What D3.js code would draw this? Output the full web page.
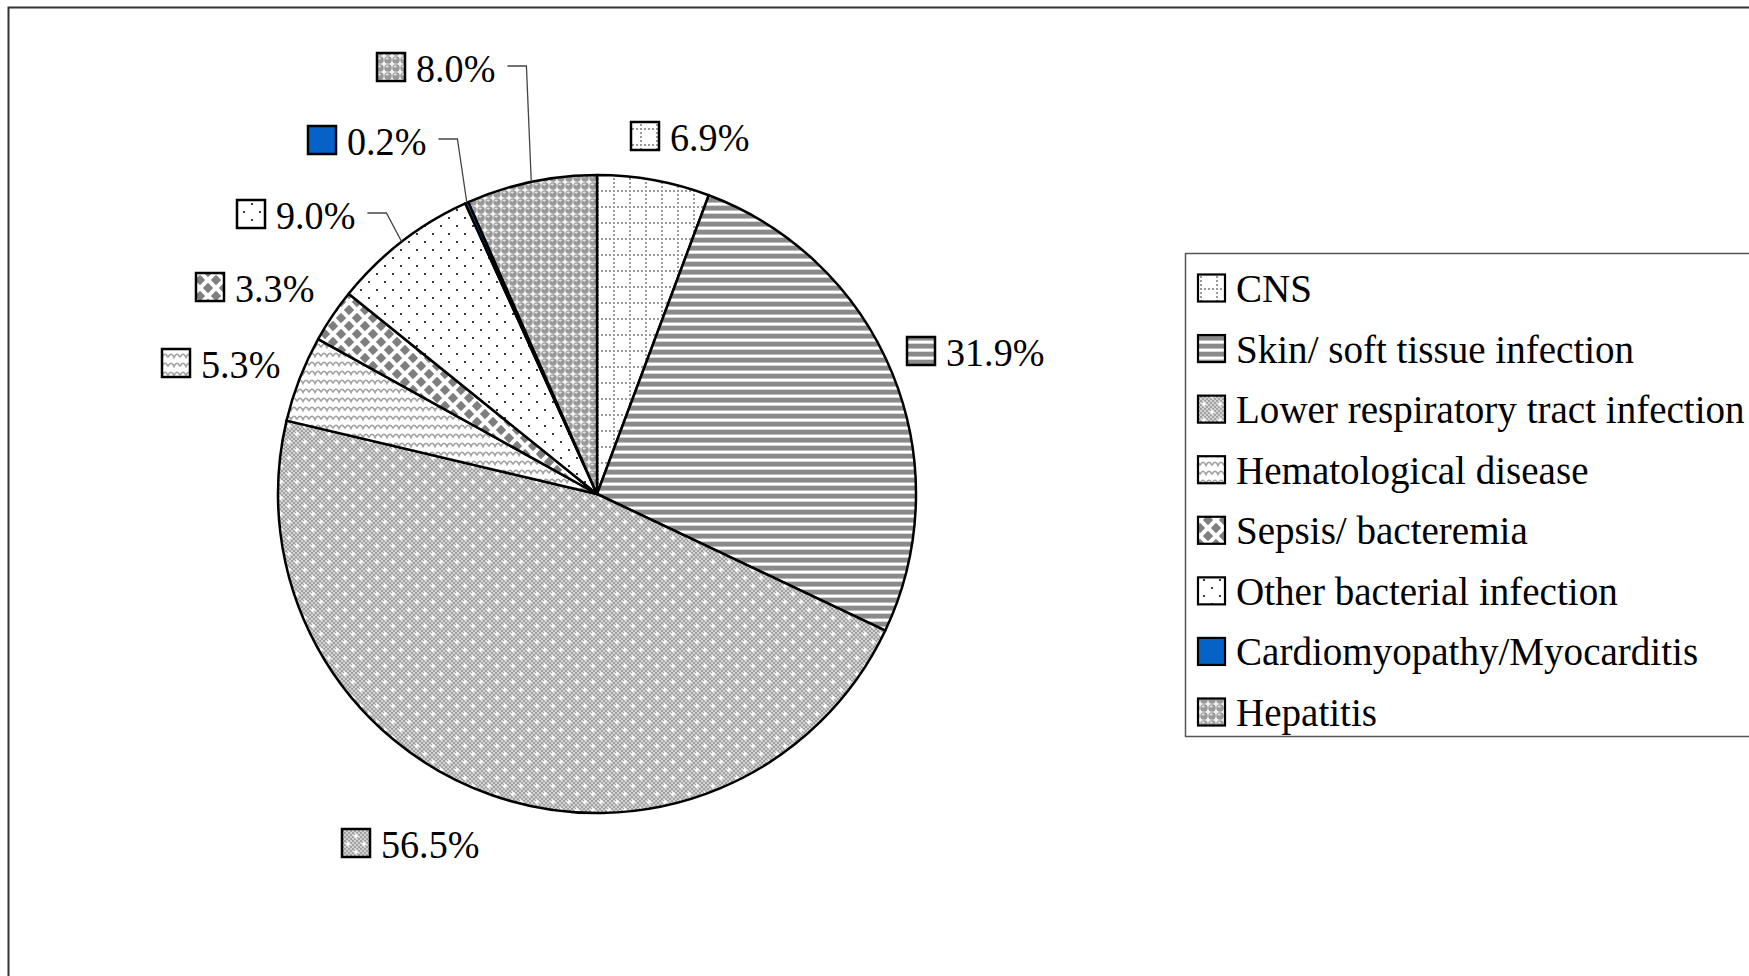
<!DOCTYPE html>
<html>
<head>
<meta charset="utf-8">
<script src="https://cdn.jsdelivr.net/npm/d3@7"></script>
<style>
  html, body { margin: 0; padding: 0; background: #fff; }
  svg { display: block; }
  text { font-family: "Liberation Serif", "Times New Roman", serif; fill: #000; }
</style>
</head>
<body>
<svg id="chart" width="1749" height="976"></svg>
<script>
// ---------------- data ----------------
const categories = [
  "CNS",
  "Skin/ soft tissue infection",
  "Lower respiratory tract infection",
  "Hematological disease",
  "Sepsis/ bacteremia",
  "Other bacterial infection",
  "Cardiomyopathy/Myocarditis",
  "Hepatitis"
];
const values = [6.9, 31.9, 56.5, 5.3, 3.3, 9.0, 0.2, 8.0];
const valueLabels = values.map(v => v.toFixed(1) + "%");

// ---------------- layout (not data) ----------------
const W = 1749, H = 976;
const cx = 597, cy = 494, R = 319;
const fontSize = 41, squeeze = 0.93, legSqueeze = 0.953;
// data-label box centres (manually placed labels, as in the original)
const labelAnchors = [[645,136],[921,351],[356,843],[176,363],[210,287],[251,214],[322,140],[391,67]];
const hasLeader = [false,false,false,false,false,true,true,true];

const svg = d3.select("#chart");
const defs = svg.append("defs");

// ---------------- fill patterns ----------------
function pat(id, w, h, build) {
  const p = defs.append("pattern").attr("id", id)
    .attr("patternUnits", "userSpaceOnUse").attr("width", w).attr("height", h);
  build(p);
}
// CNS – dotted grid
pat("p0", 16, 16, p => {
  p.append("rect").attr("width",16).attr("height",16).attr("fill","#fff");
  for (let i = 0; i < 4; i++) {
    p.append("rect").attr("x", i*4).attr("y", 0).attr("width",2).attr("height",2).attr("fill","#9a9a9a");
    if (i > 0) p.append("rect").attr("x", 0).attr("y", i*4).attr("width",2).attr("height",2).attr("fill","#9a9a9a");
  }
});
// Skin – horizontal stripes
pat("p1", 8, 8, p => {
  p.append("rect").attr("width",8).attr("height",8).attr("fill","#fff");
  p.append("rect").attr("y",0).attr("width",8).attr("height",4).attr("fill","#8a8a8a");
  p.append("rect").attr("y",4).attr("width",8).attr("height",1).attr("fill","#bdbdbd");
  p.append("rect").attr("y",7).attr("width",8).attr("height",1).attr("fill","#d8d8d8");
});
// Lower respiratory – fine checker with white crosses
pat("p2", 16, 16, p => {
  p.append("rect").attr("width",16).attr("height",16).attr("fill","#d2d2d2");
  for (let i = 0; i < 8; i++) for (let j = 0; j < 8; j++) {
    if ((i + j) % 2 === 0) p.append("rect").attr("x", i*2).attr("y", j*2).attr("width",2).attr("height",2).attr("fill","#a2a2a2");
  }
  [[4,4],[12,12]].forEach(([x,y]) => {
    p.append("rect").attr("x",x-2.5).attr("y",y-0.8).attr("width",5).attr("height",1.6).attr("fill","#fff");
    p.append("rect").attr("x",x-0.8).attr("y",y-2.5).attr("width",1.6).attr("height",5).attr("fill","#fff");
  });
});
// Hematological – waves
pat("p3", 12, 9, p => {
  p.append("rect").attr("width",12).attr("height",9).attr("fill","#fff");
  p.append("path").attr("d","M0,6.5 Q3,0 6,6.5 Q9,0 12,6.5")
    .attr("fill","none").attr("stroke","#a2a2a2").attr("stroke-width",1.7);
});
// Sepsis – diamonds
pat("p4", 16, 16, p => {
  p.append("rect").attr("width",16).attr("height",16).attr("fill","#fff");
  const dia = (x,y,h) => `M${x},${y-h}L${x+h},${y}L${x},${y+h}L${x-h},${y}Z`;
  [[8,8],[0,0],[16,0],[0,16],[16,16]].forEach(([x,y]) =>
    p.append("path").attr("d", dia(x,y,5.2)).attr("fill","#7f7f7f"));
});
// Other bacterial – sparse dots
pat("p5", 16, 16, p => {
  p.append("rect").attr("width",16).attr("height",16).attr("fill","#fff");
  [[3,3],[11,11]].forEach(([x,y]) =>
    p.append("rect").attr("x",x).attr("y",y).attr("width",2).attr("height",2).attr("fill","#3a3a3a"));
});
// Cardiomyopathy – solid blue
pat("p6", 4, 4, p => {
  p.append("rect").attr("width",4).attr("height",4).attr("fill","#0563c8");
});
// Hepatitis – spheres
pat("p7", 16, 16, p => {
  p.append("rect").attr("width",16).attr("height",16).attr("fill","#f2f2f2");
  [[4,4],[12,4],[4,12],[12,12]].forEach(([x,y]) => {
    p.append("circle").attr("cx",x).attr("cy",y).attr("r",3.7).attr("fill","#999");
    p.append("ellipse").attr("cx",x-0.8).attr("cy",y-1.5).attr("rx",1.6).attr("ry",0.9).attr("fill","#e6e6e6");
  });
});
const fillOf = i => `url(#p${i})`;

// ---------------- outer frame ----------------
svg.append("path")
  .attr("d", `M8.5,${H+5} L8.5,7.5 L${W+5},7.5`)
  .attr("fill","none").attr("stroke","#333").attr("stroke-width",2);

// ---------------- pie ----------------
const pie = d3.pie().sort(null).value(d => d)(values);
const arc = d3.arc().innerRadius(0).outerRadius(R);
const g = svg.append("g").attr("transform", `translate(${cx},${cy})`);
g.selectAll("path.slice").data(pie).join("path")
  .attr("class","slice")
  .attr("d", arc)
  .attr("fill", (d,i) => fillOf(i))
  .attr("stroke","#000").attr("stroke-width",2.5).attr("stroke-linejoin","round");

// ---------------- data labels ----------------
const boxS = 28;
pie.forEach((d,i) => {
  const [bx, by] = labelAnchors[i];
  svg.append("rect")
    .attr("x", bx - boxS/2).attr("y", by - boxS/2)
    .attr("width", boxS).attr("height", boxS)
    .attr("fill", fillOf(i)).attr("stroke","#000").attr("stroke-width",2.5);
  const tx = bx + boxS/2 + 11;
  const t = svg.append("text")
    .attr("transform", `translate(${tx},${by + 15}) scale(${squeeze},1)`)
    .attr("font-size", fontSize)
    .text(valueLabels[i]);
  if (hasLeader[i]) {
    const tw = t.node().getComputedTextLength() * squeeze;
    const x0 = tx + tw + 12, y0 = by - 1;
    const a = (d.startAngle + d.endAngle) / 2;
    const ex = cx + Math.sin(a) * R, ey = cy - Math.cos(a) * R;
    svg.append("path")
      .attr("d", `M${x0},${y0} L${x0 + 19},${y0} L${ex},${ey}`)
      .attr("fill","none").attr("stroke","#444").attr("stroke-width",1.3);
  }
});

// ---------------- legend ----------------
const legX = 1185.5, legY = 253.5, legH = 483;
svg.append("rect")
  .attr("x", legX).attr("y", legY).attr("width", W - legX + 20).attr("height", legH)
  .attr("fill","#fff").attr("stroke","#555").attr("stroke-width",1.5);
const rowY = d3.scalePoint().domain(d3.range(categories.length)).range([288, 712]);
const sw = 27;
categories.forEach((c,i) => {
  const y = rowY(i);
  svg.append("rect")
    .attr("x", 1198).attr("y", y - sw/2).attr("width", sw).attr("height", sw)
    .attr("fill", fillOf(i)).attr("stroke","#000").attr("stroke-width",2.2);
  svg.append("text")
    .attr("transform", `translate(1236,${y + 14}) scale(${legSqueeze},1)`)
    .attr("font-size", fontSize)
    .text(c);
});
</script>
</body>
</html>
